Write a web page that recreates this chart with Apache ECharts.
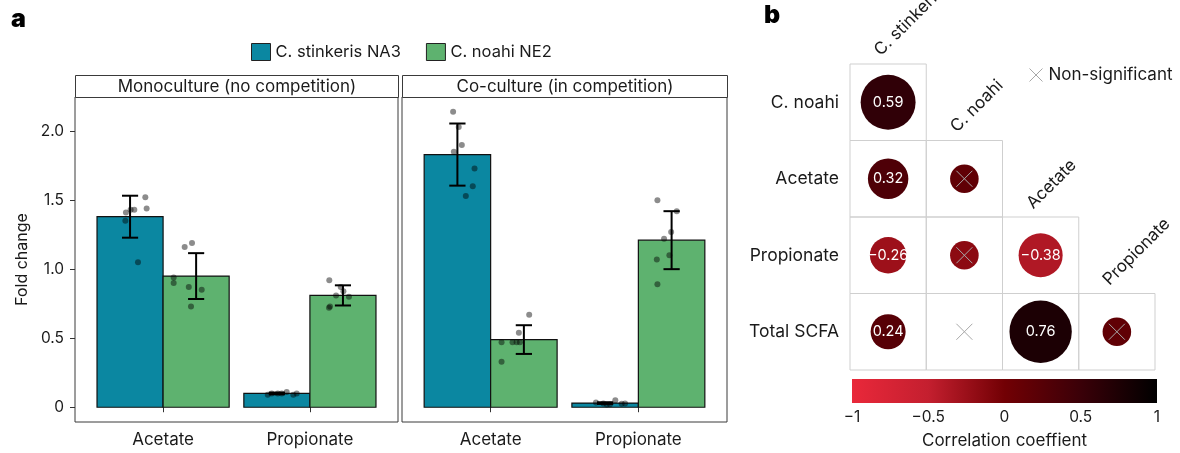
<!DOCTYPE html>
<html>
<head>
<meta charset="utf-8">
<script src="https://cdn.jsdelivr.net/npm/echarts@6/dist/echarts.min.js"></script>
<style>
  html, body { margin: 0; padding: 0; background: #fff; }
  #chart { width: 1180px; height: 453px; }
</style>
</head>
<body>
<div id="chart"></div>
<script>
// ---- Panel a: fold change of SCFA production ----
const strains = ['C. stinkeris NA3', 'C. noahi NE2'];
const acids = ['Acetate', 'Propionate'];
const facets = ['Monoculture (no competition)', 'Co-culture (in competition)'];
const foldTicks = [0, 0.5, 1, 1.5, 2];

// mean fold change per acid [Acetate, Propionate]
const monoStinkMean = [1.38, 0.10];
const monoNoahiMean = [0.95, 0.81];
const coStinkMean = [1.83, 0.03];
const coNoahiMean = [0.49, 1.21];

// standard deviation per acid
const monoStinkSd = [0.152, 0.006];
const monoNoahiSd = [0.166, 0.073];
const coStinkSd = [0.225, 0.006];
const coNoahiSd = [0.104, 0.21];

// replicate measurements
const monoStinkAcetate = [1.41, 1.43, 1.43, 1.52, 1.44, 1.35, 1.05];
const monoStinkPropionate = [0.09, 0.10, 0.10, 0.10, 0.11, 0.09, 0.10];
const monoNoahiAcetate = [1.16, 1.19, 0.94, 0.90, 0.87, 0.85, 0.73];
const monoNoahiPropionate = [0.92, 0.87, 0.84, 0.81, 0.80, 0.72, 0.73];
const coStinkAcetate = [2.14, 2.03, 1.90, 1.85, 1.73, 1.60, 1.53];
const coStinkPropionate = [0.034, 0.027, 0.022, 0.051, 0.025, 0.027, 0.020];
const coNoahiAcetate = [0.67, 0.54, 0.47, 0.47, 0.47, 0.47, 0.33];
const coNoahiPropionate = [1.50, 1.42, 1.27, 1.22, 1.10, 1.07, 0.89];

// horizontal jitter of the replicate dots (x units around the dodged bar centre)
const monoStinkAcetateJitter = [-0.028, 0.004, 0.029, 0.104, 0.113, -0.032, 0.054];
const monoStinkPropionateJitter = [-0.062, -0.035, 0.006, 0.033, 0.067, 0.112, 0.135];
const monoNoahiAcetateJitter = [-0.078, -0.028, -0.153, -0.153, -0.05, 0.038, -0.035];
const monoNoahiPropionateJitter = [-0.093, -0.015, 0.003, -0.047, 0.041, -0.095, -0.088];
const coStinkAcetateJitter = [-0.029, 0.009, 0.03, -0.024, 0.116, 0.104, 0.057];
const coStinkPropionateJitter = [-0.062, -0.012, 0.033, 0.069, 0.112, 0.135, 0.011];
const coNoahiAcetateJitter = [0.036, -0.034, -0.151, -0.077, -0.049, -0.027, -0.151];
const coNoahiPropionateJitter = [-0.096, 0.035, -0.003, -0.051, -0.015, -0.1, -0.096];

// ---- Panel b: correlation matrix (lower triangle) ----
const corrRows = ['C. noahi', 'Acetate', 'Propionate', 'Total SCFA'];
const corrCols = ['C. stinkeris', 'C. noahi', 'Acetate', 'Propionate'];
const corrValues = [
  [0.59],
  [0.32, 0.16],
  [-0.26, -0.16, -0.38],
  [0.24, 0.00, 0.76, 0.16]
];
const corrSignificant = [
  [true],
  [true, false],
  [true, false, true],
  [true, false, true, false]
];
const colorbarTicks = [-1, -0.5, 0, 0.5, 1];

// ---- styles ----
const FONT = 'Inter';
const INK = '#1a1a1a';
const strainColors = ['#0b87a1', '#5eb26f'];
const scaleColors = ['#e9283a', '#c41f2f', '#720004', '#3a0008', '#000000'];
const BAR_W = 0.45;

const minus = v => (v < 0 ? '\u2212' + Math.abs(v) : String(v));
const fmtCorr = v => (v < 0 ? '\u2212' : '') + Math.abs(v).toFixed(2);

function barSeries(name, gridIdx, means, side, color) {
  return {
    type: 'custom', name: name,
    xAxisIndex: gridIdx, yAxisIndex: gridIdx,
    itemStyle: { color: color },
    data: means.map((m, i) => [i + 1, m]),
    renderItem: (params, api) => {
      const x = api.value(0);
      const off = side === 0 ? -BAR_W : 0;
      const p0 = api.coord([x + off, api.value(1)]);
      const p1 = api.coord([x + off + BAR_W, 0]);
      return {
        type: 'rect',
        shape: { x: p0[0], y: p0[1], width: p1[0] - p0[0], height: p1[1] - p0[1] },
        style: { fill: color, stroke: '#111', lineWidth: 1.2 }
      };
    },
    z: 2
  };
}

function errorSeries(gridIdx, means, sds, side) {
  return {
    type: 'custom', silent: true,
    xAxisIndex: gridIdx, yAxisIndex: gridIdx,
    data: means.map((m, i) => [i + 1 + (side === 0 ? -BAR_W / 2 : BAR_W / 2), m, sds[i]]),
    renderItem: (params, api) => {
      const x = api.value(0), m = api.value(1), s = api.value(2);
      const top = api.coord([x, m + s]);
      const bot = api.coord([x, m - s]);
      const hw = api.size([0.055, 0])[0];
      const st = { stroke: '#000', lineWidth: 2 };
      return {
        type: 'group',
        children: [
          { type: 'line', shape: { x1: top[0], y1: top[1], x2: bot[0], y2: bot[1] }, style: st },
          { type: 'line', shape: { x1: top[0] - hw, y1: top[1], x2: top[0] + hw, y2: top[1] }, style: st },
          { type: 'line', shape: { x1: bot[0] - hw, y1: bot[1], x2: bot[0] + hw, y2: bot[1] }, style: st }
        ]
      };
    },
    z: 4
  };
}

function dotSeries(gridIdx, groups) {
  const data = [];
  groups.forEach(g => {
    const centre = g.acid + (g.side === 0 ? -BAR_W / 2 : BAR_W / 2);
    g.values.forEach((v, i) => data.push([centre + g.jitter[i], v]));
  });
  return {
    type: 'scatter', silent: true,
    xAxisIndex: gridIdx, yAxisIndex: gridIdx,
    symbolSize: 6,
    itemStyle: { color: 'rgba(0,0,0,0.45)', opacity: 1 },
    data: data, z: 3
  };
}

function facetX(gridIdx) {
  return {
    type: 'value', gridIndex: gridIdx, min: 0.4, max: 2.6,
    axisLine: { show: false },
    splitLine: { show: false },
    axisTick: { show: true, customValues: [1, 2], length: 5, lineStyle: { color: '#333' } },
    axisLabel: {
      customValues: [1, 2], formatter: v => acids[Math.round(v) - 1],
      fontSize: 17, color: INK, margin: 9, fontFamily: FONT
    }
  };
}

function facetY(gridIdx) {
  const first = gridIdx === 0;
  return {
    type: 'value', gridIndex: gridIdx, min: -0.107, max: 2.247,
    axisLine: { show: false },
    splitLine: { show: false },
    axisTick: { show: first, customValues: foldTicks, length: 5, lineStyle: { color: '#333' } },
    axisLabel: {
      show: first, customValues: foldTicks,
      formatter: v => (v === 0 ? '0' : v.toFixed(1)),
      fontSize: 15.5, color: INK, margin: 11, fontFamily: FONT
    },
    name: first ? 'Fold change' : '',
    nameLocation: 'middle', nameGap: 45,
    nameTextStyle: { fontSize: 16, color: INK, fontFamily: FONT }
  };
}

// correlation matrix cells
const cellData = [], circleData = [], crossData = [];
corrValues.forEach((row, r) => {
  row.forEach((v, c) => {
    cellData.push([c, r]);
    const sig = corrSignificant[r][c];
    circleData.push({
      value: [c, r, v],
      label: { show: sig }
    });
    if (!sig) crossData.push([c, r]);
  });
});

const chart = echarts.init(document.getElementById('chart'), null, { renderer: 'canvas' });

const facetBoxes = [
  { left: 75, width: 323 },
  { left: 402, width: 325 }
];

const option = {
  animation: false,
  backgroundColor: '#fff',
  textStyle: { fontFamily: FONT },
  legend: {
    data: strains, left: 246, top: 38,
    icon: 'rect', itemWidth: 19, itemHeight: 17, itemGap: 25,
    itemStyle: { borderColor: '#222', borderWidth: 1 },
    textStyle: { fontSize: 16.5, color: INK, fontFamily: FONT },
    selectedMode: false
  },
  grid: [
    { left: 75, top: 97, width: 323, height: 325, show: true, borderColor: '#3a3a3a', borderWidth: 1, backgroundColor: 'transparent' },
    { left: 402, top: 97, width: 325, height: 325, show: true, borderColor: '#3a3a3a', borderWidth: 1, backgroundColor: 'transparent' },
    { left: 850, top: 64, width: 305, height: 306 },
    { left: 852, top: 379, width: 305, height: 24 }
  ],
  xAxis: [
    facetX(0), facetX(1),
    { type: 'category', gridIndex: 2, data: corrCols, show: false },
    {
      type: 'value', gridIndex: 3, min: -1, max: 1, interval: 0.5,
      axisLine: { show: false }, axisTick: { show: false }, splitLine: { show: false },
      axisLabel: { formatter: minus, fontSize: 15.5, color: INK, margin: 6, fontFamily: FONT },
      name: 'Correlation coeffient', nameLocation: 'middle', nameGap: 29,
      nameTextStyle: { fontSize: 17, color: INK, fontFamily: FONT }
    }
  ],
  yAxis: [
    facetY(0), facetY(1),
    {
      type: 'category', gridIndex: 2, data: corrRows, inverse: true,
      axisLine: { show: false }, axisTick: { show: false },
      axisLabel: { fontSize: 17.5, color: INK, margin: 11, fontFamily: FONT }
    },
    { type: 'value', gridIndex: 3, min: 0, max: 1, show: false }
  ],
  visualMap: {
    type: 'continuous', min: -1, max: 1, dimension: 2,
    seriesIndex: 13, show: false,
    inRange: { color: scaleColors }
  },
  series: [
    // 0-3 bars
    barSeries(strains[0], 0, monoStinkMean, 0, strainColors[0]),
    barSeries(strains[1], 0, monoNoahiMean, 1, strainColors[1]),
    barSeries(strains[0], 1, coStinkMean, 0, strainColors[0]),
    barSeries(strains[1], 1, coNoahiMean, 1, strainColors[1]),
    // 4-5 replicate dots
    dotSeries(0, [
      { acid: 1, side: 0, values: monoStinkAcetate, jitter: monoStinkAcetateJitter },
      { acid: 2, side: 0, values: monoStinkPropionate, jitter: monoStinkPropionateJitter },
      { acid: 1, side: 1, values: monoNoahiAcetate, jitter: monoNoahiAcetateJitter },
      { acid: 2, side: 1, values: monoNoahiPropionate, jitter: monoNoahiPropionateJitter }
    ]),
    dotSeries(1, [
      { acid: 1, side: 0, values: coStinkAcetate, jitter: coStinkAcetateJitter },
      { acid: 2, side: 0, values: coStinkPropionate, jitter: coStinkPropionateJitter },
      { acid: 1, side: 1, values: coNoahiAcetate, jitter: coNoahiAcetateJitter },
      { acid: 2, side: 1, values: coNoahiPropionate, jitter: coNoahiPropionateJitter }
    ]),
    // 6-9 error bars
    errorSeries(0, monoStinkMean, monoStinkSd, 0),
    errorSeries(0, monoNoahiMean, monoNoahiSd, 1),
    errorSeries(1, coStinkMean, coStinkSd, 0),
    errorSeries(1, coNoahiMean, coNoahiSd, 1),
    // 10 colour bar
    {
      type: 'custom', silent: true, xAxisIndex: 3, yAxisIndex: 3,
      data: [[colorbarTicks[0], colorbarTicks[colorbarTicks.length - 1]]],
      encode: { x: [0, 1] },
      renderItem: (params, api) => {
        const p0 = api.coord([api.value(0), 1]);
        const p1 = api.coord([api.value(1), 0]);
        const lo = colorbarTicks[0], hi = colorbarTicks[colorbarTicks.length - 1];
        const stops = colorbarTicks.map((t, i) => ({ offset: (t - lo) / (hi - lo), color: scaleColors[i] }));
        return {
          type: 'rect',
          shape: { x: p0[0], y: p0[1], width: p1[0] - p0[0], height: p1[1] - p0[1] },
          style: { fill: new echarts.graphic.LinearGradient(0, 0, 1, 0, stops) }
        };
      }
    },
    // 11 matrix cell outlines
    {
      type: 'custom', silent: true, xAxisIndex: 2, yAxisIndex: 2,
      data: cellData,
      renderItem: (params, api) => {
        const c = api.coord([api.value(0), api.value(1)]);
        const s = api.size([1, 1]);
        return {
          type: 'rect',
          shape: { x: c[0] - s[0] / 2, y: c[1] - s[1] / 2, width: s[0], height: s[1] },
          style: { fill: 'none', stroke: '#cfcfcf', lineWidth: 1 }
        };
      },
      z: 1
    },
    // 12 column labels along the diagonal
    {
      type: 'custom', silent: true, xAxisIndex: 2, yAxisIndex: 2,
      data: corrCols.map((name, i) => [i, i]),
      renderItem: (params, api) => {
        const c = api.coord([api.value(0), api.value(1)]);
        const s = api.size([1, 1]);
        return {
          type: 'text',
          x: c[0] - 5, y: c[1] - s[1] / 2 - 5,
          rotation: Math.PI / 4,
          style: {
            text: corrCols[params.dataIndex], x: 0, y: 0,
            align: 'left', verticalAlign: 'bottom',
            fontSize: 17, fontFamily: FONT, fill: INK
          }
        };
      },
      z: 1
    },
    // 13 correlation circles
    {
      type: 'scatter', xAxisIndex: 2, yAxisIndex: 2, silent: true,
      symbol: 'circle',
      symbolSize: v => 71.5 * Math.sqrt(Math.abs(v[2])),
      itemStyle: { opacity: 1 },
      data: circleData,
      label: {
        position: 'inside', color: '#fff', fontSize: 14.5, fontFamily: FONT,
        formatter: p => fmtCorr(p.value[2])
      },
      z: 3
    },
    // 14 non-significant crosses
    {
      type: 'custom', silent: true, xAxisIndex: 2, yAxisIndex: 2,
      data: crossData,
      renderItem: (params, api) => {
        const c = api.coord([api.value(0), api.value(1)]);
        const h = 8;
        const st = { stroke: '#a8a8a8', lineWidth: 1 };
        return {
          type: 'group',
          children: [
            { type: 'line', shape: { x1: c[0] - h, y1: c[1] - h, x2: c[0] + h, y2: c[1] + h }, style: st },
            { type: 'line', shape: { x1: c[0] - h, y1: c[1] + h, x2: c[0] + h, y2: c[1] - h }, style: st }
          ]
        };
      },
      z: 5
    }
  ],
  graphic: [
    { type: 'text', left: 11, top: 7, style: { text: 'a', fontSize: 25, fontWeight: 900, fontFamily: 'Inter', fill: '#000' } },
    { type: 'text', left: 764, top: 3, style: { text: 'b', fontSize: 25, fontWeight: 900, fontFamily: 'Inter', fill: '#000' } },
    // facet strips
    ...facets.map((f, i) => ({
      type: 'group', left: facetBoxes[i].left, top: 75,
      children: [
        { type: 'rect', shape: { x: 0, y: 0, width: facetBoxes[i].width, height: 22 }, style: { fill: '#fff', stroke: '#3a3a3a', lineWidth: 1 } },
        { type: 'text', style: { text: f, x: facetBoxes[i].width / 2, y: 11.5, align: 'center', verticalAlign: 'middle', fontSize: 17, fontFamily: FONT, fill: INK } }
      ]
    })),
    // non-significant key
    {
      type: 'group', left: 1027, top: 66,
      children: [
        { type: 'line', shape: { x1: 0, y1: 0, x2: 13, y2: 13 }, style: { stroke: '#a8a8a8', lineWidth: 1 } },
        { type: 'line', shape: { x1: 0, y1: 13, x2: 13, y2: 0 }, style: { stroke: '#a8a8a8', lineWidth: 1 } },
        { type: 'text', style: { text: 'Non-significant', x: 19, y: 6.5, verticalAlign: 'middle', fontSize: 17, fontFamily: FONT, fill: INK } }
      ]
    }
  ]
};

chart.setOption(option);
</script>
</body>
</html>
